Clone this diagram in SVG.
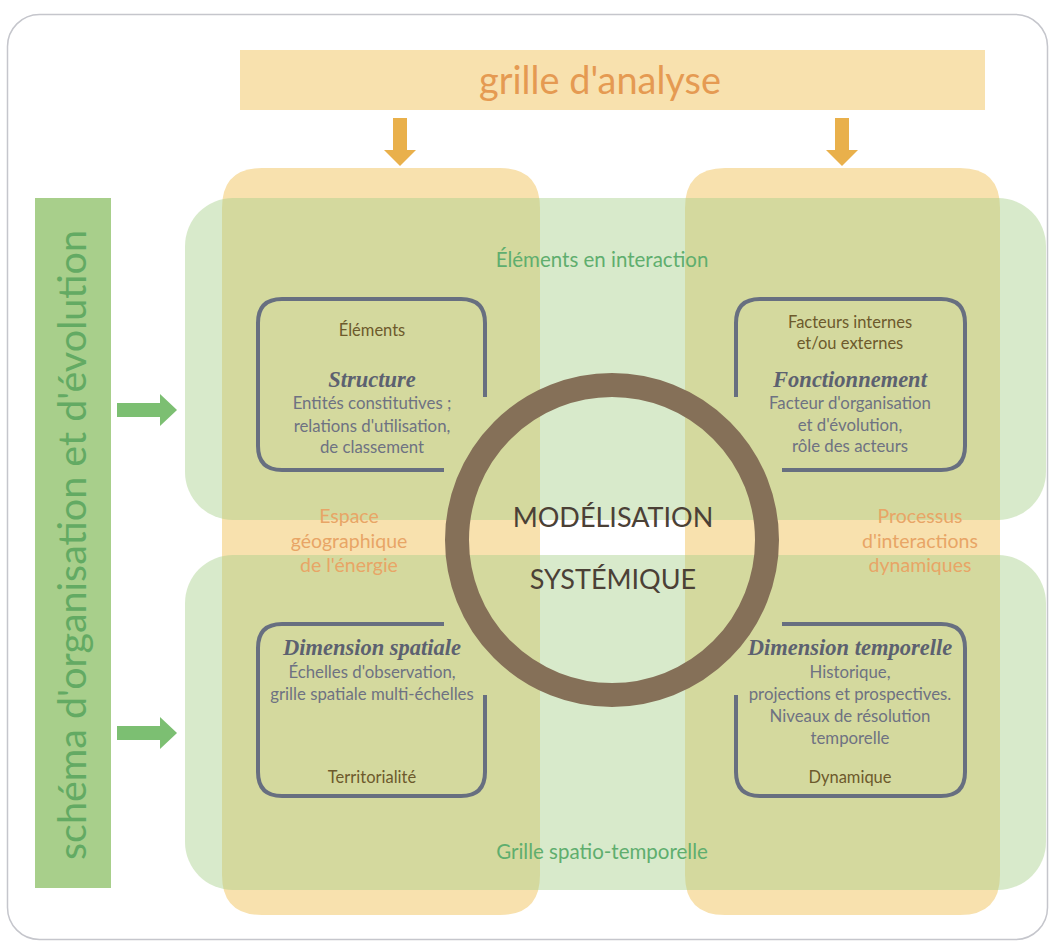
<svg xmlns="http://www.w3.org/2000/svg" width="1049" height="949" viewBox="0 0 1049 949">
<defs>
<style>
.sans{font-family:Lato,"Open Sans","Liberation Sans",sans-serif;}
.ttl{font-family:"Liberation Serif",serif;font-style:italic;font-weight:bold;font-size:22.5px;fill:#5c6170;text-anchor:middle;}
.body{font-family:Lato,"Open Sans","Liberation Sans",sans-serif;font-size:16.8px;fill:#6e7282;text-anchor:middle;}
.key{font-family:Lato,"Open Sans","Liberation Sans",sans-serif;font-size:16.5px;fill:#6d5a2c;text-anchor:middle;}
.org{font-family:Lato,"Open Sans","Liberation Sans",sans-serif;font-size:19.5px;fill:#e8a566;text-anchor:middle;}
.grn{font-family:Lato,"Open Sans","Liberation Sans",sans-serif;font-size:20.5px;fill:#5fae6e;text-anchor:middle;}
.box{fill:none;stroke:#676f80;stroke-width:4;stroke-linecap:butt;}
.ocol{fill:#f8e1ae;}
.gband{fill:#a9d08c;fill-opacity:0.45;}
</style>
</defs>
<rect x="0" y="0" width="1049" height="949" fill="#ffffff"/>
<rect x="7.5" y="14.5" width="1040" height="925" rx="32" fill="#ffffff" stroke="#c5c6cc" stroke-width="1.5"/>

<g id="columns">
<path class="ocol" d="M262,168 H500 Q540,168 540,208 V875 Q540,915 500,915 H262 Q222,915 222,875 V208 Q222,168 262,168 Z"/>
<path class="ocol" d="M725,168 H960 Q1000,168 1000,208 V875 Q1000,915 960,915 H725 Q685,915 685,875 V208 Q685,168 725,168 Z"/>
</g>
<g id="bands">
<rect class="gband" x="185" y="198" width="861" height="322" rx="48"/>
<rect class="gband" x="185" y="555" width="861" height="335" rx="48"/>
</g>

<g id="grille-analyse">
<rect x="240" y="50" width="745" height="60" fill="#f8e1ae"/>
<text class="sans" x="600" y="94" font-size="38" fill="#e59a52" text-anchor="middle" textLength="242" lengthAdjust="spacingAndGlyphs">grille d'analyse</text>
</g>

<g id="schema-organisation">
<rect x="35" y="198" width="76" height="690" fill="#a8cf8b"/>
<text class="sans" transform="translate(86,545) rotate(-90)" font-size="38" fill="#63aa63" text-anchor="middle" textLength="630" lengthAdjust="spacingAndGlyphs">schéma d'organisation et d'évolution</text>
</g>

<g id="connectors">
<path d="M393,118 H407 V150 H416 L400,166 L384,150 H393 Z" fill="#e9b04b"/>
<path d="M835,118 H849 V150 H858 L842,166 L826,150 H835 Z" fill="#e9b04b"/>
<path d="M117,403 V417 H160 V426 L177,410 L160,394 V403 Z" fill="#7cbf72"/>
<path d="M117,726 V740 H160 V749 L177,733 L160,717 V726 Z" fill="#7cbf72"/>
</g>

<g id="labels">
<text class="grn" x="602" y="267">Éléments en interaction</text>
<text class="grn" x="602" y="859">Grille spatio-temporelle</text>
<text class="org" x="349" y="523">Espace</text>
<text class="org" x="349" y="548">géographique</text>
<text class="org" x="349" y="572">de l'énergie</text>
<text class="org" x="920" y="523">Processus</text>
<text class="org" x="920" y="548">d'interactions</text>
<text class="org" x="920" y="572">dynamiques</text>
</g>

<g id="structure">
<path class="box" d="M485,397 V323 Q485,299 461,299 H282 Q258,299 258,323 V446 Q258,470 282,470 H444"/>
<text class="key" x="372" y="336">Éléments</text>
<text class="ttl" x="372" y="387">Structure</text>
<text class="body" x="372" y="409">Entités constitutives ;</text>
<text class="body" x="372" y="432">relations d'utilisation,</text>
<text class="body" x="372" y="453">de classement</text>
</g>

<g id="fonctionnement">
<path class="box" d="M736,397 V323 Q736,299 760,299 H941 Q965,299 965,323 V446 Q965,470 941,470 H782"/>
<text class="key" x="850" y="328">Facteurs internes</text>
<text class="key" x="850" y="349">et/ou externes</text>
<text class="ttl" x="850" y="387">Fonctionnement</text>
<text class="body" x="850" y="409">Facteur d'organisation</text>
<text class="body" x="850" y="431">et d'évolution,</text>
<text class="body" x="850" y="452">rôle des acteurs</text>
</g>

<g id="dimension-spatiale">
<path class="box" d="M444,624 H282 Q258,624 258,648 V772 Q258,796 282,796 H461 Q485,796 485,772 V695"/>
<text class="ttl" x="372" y="655">Dimension spatiale</text>
<text class="body" x="372" y="678">Échelles d'observation,</text>
<text class="body" x="372" y="700">grille spatiale multi-échelles</text>
<text class="key" x="372" y="783">Territorialité</text>
</g>

<g id="dimension-temporelle">
<path class="box" d="M782,624 H941 Q965,624 965,648 V772 Q965,796 941,796 H760 Q736,796 736,772 V695"/>
<text class="ttl" x="850" y="655">Dimension temporelle</text>
<text class="body" x="850" y="678">Historique,</text>
<text class="body" x="850" y="700">projections et prospectives.</text>
<text class="body" x="850" y="722">Niveaux de résolution</text>
<text class="body" x="850" y="744">temporelle</text>
<text class="key" x="850" y="783">Dynamique</text>
</g>

<g id="modelisation">
<circle cx="612" cy="540" r="155" fill="none" stroke="#857058" stroke-width="24"/>
<text class="sans" x="613" y="527" font-size="27" fill="#4b4036" text-anchor="middle">MODÉLISATION</text>
<text class="sans" x="613" y="589" font-size="27" fill="#4b4036" text-anchor="middle">SYSTÉMIQUE</text>
</g>
</svg>
